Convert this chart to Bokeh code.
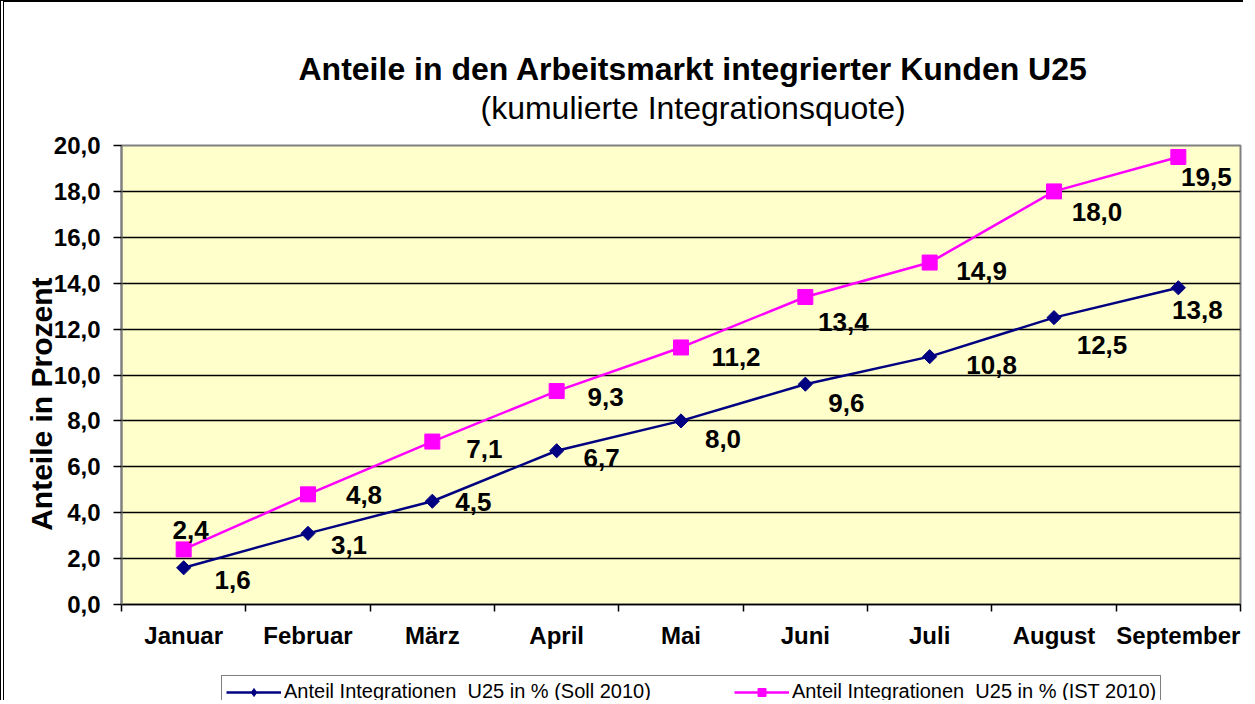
from bokeh.plotting import figure
from bokeh.layouts import column
from bokeh.models import (ColumnDataSource, FixedTicker, Range1d, Legend, LegendItem,
                          Title, LabelSet)
from bokeh.core.properties import value
from bokeh.embed import file_html
from bokeh.resources import INLINE
import math

# ---------------- data ----------------
months = ["Januar", "Februar", "März", "April", "Mai", "Juni", "Juli", "August", "September"]
soll = [1.6, 3.1, 4.5, 6.7, 8.0, 9.6, 10.8, 12.5, 13.8]
ist = [2.4, 4.8, 7.1, 9.3, 11.2, 13.4, 14.9, 18.0, 19.5]
y_ticks = [0, 2, 4, 6, 8, 10, 12, 14, 16, 18, 20]
y_tick_labels = ["0,0", "2,0", "4,0", "6,0", "8,0", "10,0", "12,0", "14,0", "16,0", "18,0", "20,0"]
soll_name = "Anteil Integrationen  U25 in % (Soll 2010)"
ist_name = "Anteil Integrationen  U25 in % (IST 2010)"
title_text = "Anteile in den Arbeitsmarkt integrierter Kunden U25"
subtitle_text = "(kumulierte Integrationsquote)"
y_label = "Anteile in Prozent"

# label placement offsets (screen px, style only)
soll_dx = [49, 41, 41, 45, 42, 41, 62, 48, 19]
soll_dy = [12, 12, 1, 7, 18, 19, 8, 27, 22]
ist_dx = [7, 56, 52, 49, 55, 38, 52, 43, 28]
ist_dy = [-19, 1, 7, 6, 10, 25, 8, 21, 20]

FONT = "Liberation Sans"
NAVY = "#000080"
MAG = "#FF00FF"
xs = [i + 0.5 for i in range(len(months))]

def fmt(v):
    return f"{v:.1f}".replace(".", ",")

src_soll = ColumnDataSource(dict(x=xs, y=soll, t=[fmt(v) for v in soll],
                                 dx=soll_dx, dy=[-d for d in soll_dy]))
src_ist = ColumnDataSource(dict(x=xs, y=ist, t=[fmt(v) for v in ist],
                                dx=ist_dx, dy=[-d for d in ist_dy]))

W, H1, H2 = 1243, 666, 34
p = figure(width=W, height=H1, output_backend="svg", toolbar_location=None,
           title=None, x_range=Range1d(0, len(months)), y_range=Range1d(0, 20),
           min_border_left=117, min_border_right=7, min_border_top=143,
           min_border_bottom=64)
p.styles = {"border-left": "4px double black", "border-top": "2px solid black"}

p.background_fill_color = "#FFFFCC"
p.border_fill_color = "white"
p.outline_line_color = "#808080"
p.outline_line_width = 2

# titles
sub = Title(text=subtitle_text, align="left", text_font=FONT, text_font_size="32px",
            text_font_style="normal", text_color="black", standoff=40, offset=359)
p.add_layout(sub, "above")
main = Title(text=title_text, align="left", text_font=FONT, text_font_size="32px",
             text_font_style="bold", text_color="black", standoff=-38, offset=177)
p.add_layout(main, "above")

# grid
p.xgrid.grid_line_color = None
p.ygrid.ticker = FixedTicker(ticks=y_ticks[1:-1])
p.ygrid.grid_line_color = "black"
p.ygrid.grid_line_width = 1.5

# y axis
ya = p.yaxis[0]
ya.ticker = FixedTicker(ticks=y_ticks)
ya.major_label_overrides = {t: l for t, l in zip(y_ticks, y_tick_labels)}
ya.major_label_text_font = FONT
ya.major_label_text_font_size = "24px"
ya.major_label_text_font_style = "bold"
ya.major_label_text_color = "black"
ya.major_tick_out = 8
ya.major_tick_in = 0
ya.major_tick_line_color = "black"
ya.major_tick_line_width = 1.5
ya.minor_tick_line_color = None
ya.axis_line_color = "#808080"
ya.axis_line_width = 2
ya.major_label_standoff = 13
ya.axis_label = y_label + "\u00a0" * 7
ya.axis_label_text_font = FONT
ya.axis_label_text_font_size = "30px"
ya.axis_label_text_font_style = "bold"
ya.axis_label_text_color = "black"
ya.axis_label_standoff = -7

# x axis
xa = p.xaxis[0]
xa.ticker = FixedTicker(ticks=xs, minor_ticks=list(range(len(months) + 1)))
xa.major_label_overrides = {x: m for x, m in zip(xs, months)}
xa.major_label_text_font = FONT
xa.major_label_text_font_size = "24px"
xa.major_label_text_font_style = "bold"
xa.major_label_text_color = "black"
xa.major_tick_line_color = None
xa.major_tick_out = 0
xa.major_tick_in = 0
xa.minor_tick_out = 7
xa.minor_tick_in = 0
xa.minor_tick_line_color = "black"
xa.minor_tick_line_width = 1.5
xa.axis_line_color = "black"
xa.axis_line_width = 1.5
xa.major_label_standoff = 10

# series
p.line("x", "y", source=src_soll, line_color=NAVY, line_width=2.5)
p.scatter("x", "y", source=src_soll, marker="square", size=10, angle=math.pi / 4,
          fill_color=NAVY, line_color=NAVY)
p.line("x", "y", source=src_ist, line_color=MAG, line_width=2.5)
p.scatter("x", "y", source=src_ist, marker="square", size=15,
          fill_color=MAG, line_color=MAG)

for s in (src_soll, src_ist):
    p.add_layout(LabelSet(x="x", y="y", text="t", source=s, x_offset="dx", y_offset="dy",
                          text_align="center", text_baseline="middle",
                          text_font=value(FONT), text_font_size=value("26px"),
                          text_font_style="bold", text_color="black"))

# legend strip (separate small figure below the chart; its series lie outside its ranges)
lf = figure(width=W, height=H2, output_backend="svg", toolbar_location=None, title=None,
            x_range=Range1d(0, 1), y_range=Range1d(-100, -99), x_axis_type=None,
            y_axis_type=None, min_border=0)
lf.styles = {"border-left": "4px double black"}
lf.grid.grid_line_color = None
lf.outline_line_color = None
lf.background_fill_color = "white"
lf.border_fill_color = "white"
ll1 = lf.line("x", "y", source=src_soll, line_color=NAVY, line_width=2.5)
lm1 = lf.scatter("x", "y", source=src_soll, marker="diamond", size=13,
                 fill_color=NAVY, line_color=NAVY)
ll2 = lf.line("x", "y", source=src_ist, line_color=MAG, line_width=2.5)
lm2 = lf.scatter("x", "y", source=src_ist, marker="square", size=15,
                 fill_color=MAG, line_color=MAG)
legend = Legend(items=[LegendItem(label=soll_name, renderers=[ll1, lm1]),
                       LegendItem(label=ist_name, renderers=[ll2, lm2])],
                orientation="horizontal", location=(100, -8),
                label_text_font=FONT, label_text_font_size="20px", label_text_color="black",
                glyph_width=55, glyph_height=20, label_standoff=3, spacing=83, padding=4,
                border_line_color="black", border_line_width=1.5,
                background_fill_color="white", background_fill_alpha=1.0, margin=0)
lf.add_layout(legend, "center")

layout = column(p, lf, spacing=0)
open("out.html", "w").write(file_html(layout, INLINE))
